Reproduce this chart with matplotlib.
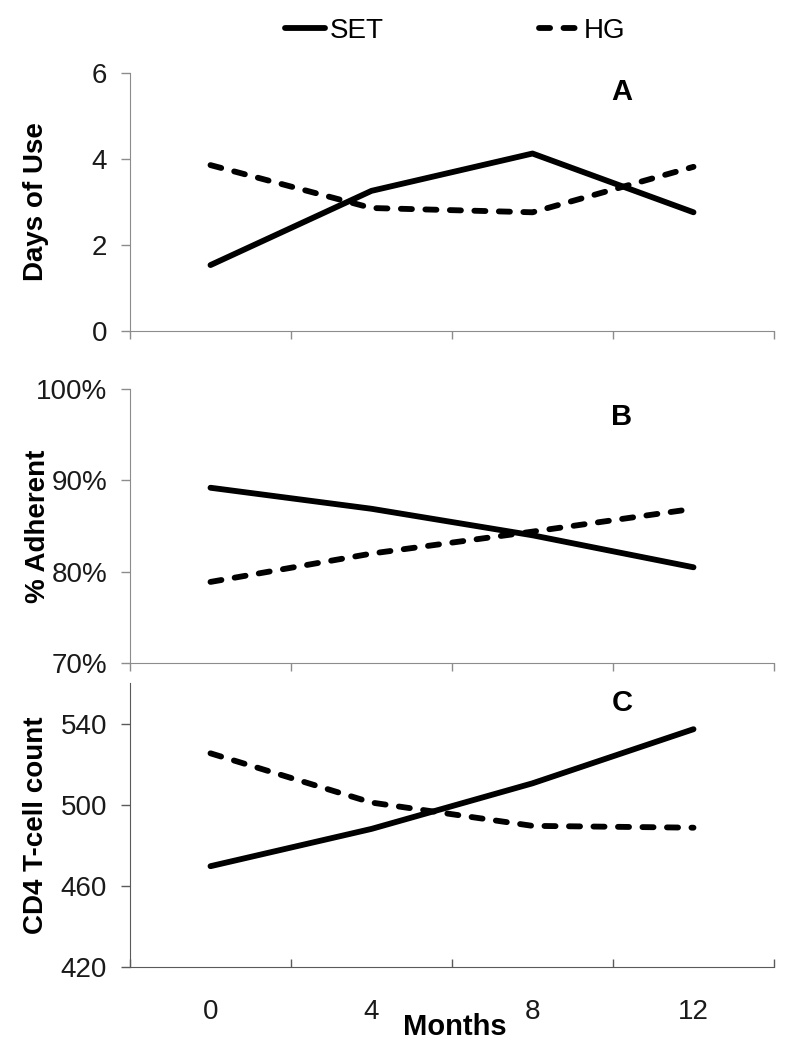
import matplotlib
matplotlib.use("Agg")
import matplotlib.pyplot as plt
from matplotlib.ticker import FuncFormatter

plt.rcParams['font.family'] = ['Liberation Sans', 'DejaVu Sans']

# data
months = ['0', '4', '8', '12']
days_set = [1.53, 3.26, 4.13, 2.76]
days_hg = [3.86, 2.86, 2.76, 3.82]
adh_set = [89.2, 86.9, 84.0, 80.5]
adh_hg = [78.9, 82.0, 84.4, 86.9]
cd4_set = [469.6, 488.0, 510.5, 537.2]
cd4_hg = [525.3, 501.0, 489.5, 488.6]

W, H = 792, 1050
fig = plt.figure(figsize=(W / 100, H / 100), dpi=100)

def px_axes(left, top, right, bottom):
    return fig.add_axes([left / W, 1 - bottom / H, (right - left) / W, (bottom - top) / H])

axA = px_axes(130, 73.3, 774, 330.7)
axB = px_axes(130, 389, 774, 663.3)
axC = px_axes(130, 683, 774, 966.7)

xpos = [i + 0.5 for i in range(len(months))]

def draw(ax, s, h):
    l1, = ax.plot(xpos, s, color='black', lw=4.2, solid_capstyle='round', solid_joinstyle='round', label='SET')
    l2, = ax.plot(xpos, h, color='black', lw=4.2, ls=(0, (1.9, 2.3)), dash_capstyle='round', label='HG')
    return l1, l2

handles = draw(axA, days_set, days_hg)
draw(axB, adh_set, adh_hg)
draw(axC, cd4_set, cd4_hg)

axA.set_ylim(0, 6)
axA.set_yticks([0, 2, 4, 6])
axB.set_ylim(70, 100)
axB.set_yticks([70, 80, 90, 100])
axB.yaxis.set_major_formatter(FuncFormatter(lambda v, p: '%d%%' % v))
axC.set_ylim(420, 560)
axC.set_yticks([420, 460, 500, 540])

for ax, col, xdir in [(axA, '#8c8c8c', 'out'), (axB, '#8c8c8c', 'out'), (axC, '#5a5a5a', 'in')]:
    ax.set_xlim(0, 4)
    ax.set_xticks([0, 1, 2, 3, 4])
    ax.set_xticklabels([])
    ax.spines['top'].set_visible(False)
    ax.spines['right'].set_visible(False)
    ax.spines['left'].set_color(col)
    ax.spines['bottom'].set_color(col)
    ax.tick_params(axis='y', direction='out', length=6.5, width=1, color=col,
                   labelsize=20, pad=10, labelcolor='#1a1a1a')
    ax.tick_params(axis='x', which='major', direction=xdir, length=6, width=1, color=col)

axC.set_xticks(xpos, minor=True)
axC.set_xticklabels(months, minor=True)
axC.tick_params(axis='x', which='minor', length=0, labelsize=20, pad=23, labelcolor='#1a1a1a')

# panel letters
axA.text((622 - 130) / 644, (330.7 - 92.5) / 257.4, 'A', transform=axA.transAxes,
         ha='center', va='center', fontsize=21, fontweight='bold')
axB.text((622 - 130) / 644, (663.3 - 416.7) / 274.3, 'B', transform=axB.transAxes,
         ha='center', va='center', fontsize=21, fontweight='bold')
axC.text((622 - 130) / 644, (966.7 - 703) / 283.7, 'C', transform=axC.transAxes,
         ha='center', va='center', fontsize=21, fontweight='bold')

# axis titles
fig.text(36 / W, 1 - 202 / H, 'Days of Use', rotation=90, ha='center', va='center',
         fontsize=20, fontweight='bold')
fig.text(38 / W, 1 - 526 / H, '% Adherent', rotation=90, ha='center', va='center',
         fontsize=20, fontweight='bold')
fig.text(36 / W, 1 - 825 / H, 'CD4 T-cell count', rotation=90, ha='center', va='center',
         fontsize=20, fontweight='bold')
fig.text(455 / W, 1 - 1027 / H, 'Months', ha='center', va='center',
         fontsize=21, fontweight='bold')

fig.legend(handles, ['SET', 'HG'], loc='center', bbox_to_anchor=(455 / W, 1 - 31 / H),
           ncol=2, frameon=False, fontsize=20, handlelength=1.45, handletextpad=0.15,
           columnspacing=5.6)

fig.savefig('out.png', dpi=100)
